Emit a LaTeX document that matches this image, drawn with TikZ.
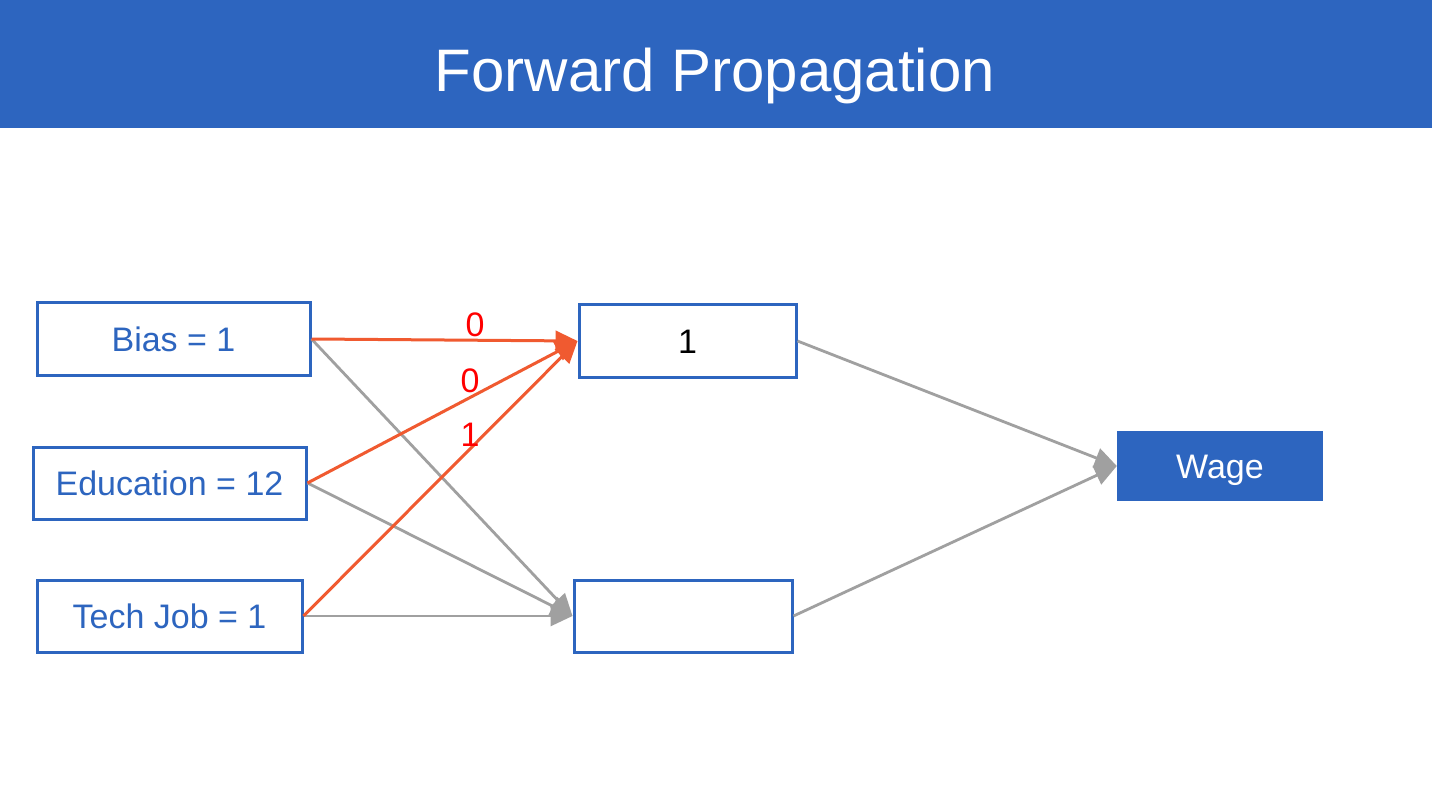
\documentclass[tikz,border=0pt]{standalone}
\usepackage{fontspec}
\setmainfont{Liberation Sans}
\usetikzlibrary{arrows.meta}
\definecolor{hdrblue}{HTML}{2D65BF}
\definecolor{edgeorange}{HTML}{F05A30}
\definecolor{edgegray}{HTML}{A0A0A0}
\definecolor{lblred}{HTML}{FF0000}
\tikzset{
  txt/.style={inner sep=0pt, text height=24.3pt, text depth=0pt},
  inbox/.style={txt, draw=hdrblue, line width=3pt, fill=white, text=hdrblue,
    font=\fontsize{34}{40}\selectfont},
  outbox/.style={txt, fill=hdrblue, text=white, font=\fontsize{34}{40}\selectfont},
  orangeedge/.style={draw=edgeorange, line width=3pt, -{Triangle[length=22pt,width=20pt]}},
  grayedge/.style={draw=edgegray, line width=2.8pt, -{Triangle[length=22pt,width=20pt]}},
  wlabel/.style={txt, text=lblred, font=\fontsize{34}{40}\selectfont},
}
\begin{document}
\begin{tikzpicture}[x=1pt,y=-1pt]
\useasboundingbox (0,0) rectangle (1432,802);
\fill[white] (0,0) rectangle (1432,802);
\fill[hdrblue] (0,0) rectangle (1432,128);
\node[inner sep=0pt, text height=43.7pt, text depth=0pt, text=white, font=\fontsize{60}{70}\selectfont] (title) at (715,70) {Forward Propagation};

\node[inbox, minimum width=273pt, minimum height=72pt] (bias) at (173.5,339) {Bias = 1};
\node[inbox, minimum width=273pt, minimum height=72pt] (edu) at (169.5,483) {Education = 12};
\node[inbox, minimum width=265pt, minimum height=72pt] (tech) at (169.5,616) {Tech Job = 1};
\node[inbox, minimum width=217pt, minimum height=72pt, text=black] (h1) at (687.5,341) {1};
\node[inbox, minimum width=218pt, minimum height=72pt] (h2) at (683,616) {};
\node[outbox, minimum width=206pt, minimum height=70pt] (wage) at (1220,466) {Wage};

\draw[grayedge] (bias.east) -- (h2.west);
\draw[grayedge] (edu.east) -- (h2.west);
\draw[grayedge] (tech.east) -- (h2.west);
\draw[orangeedge] (bias.east) -- (h1.west);
\draw[orangeedge] (edu.east) -- (h1.west);
\draw[orangeedge] (tech.east) -- (h1.west);
\draw[grayedge] (h1.east) -- (wage.west);
\draw[grayedge] (h2.east) -- (wage.west);

\node[wlabel] (w1) at (475,324) {0};
\node[wlabel] (w2) at (470,380) {0};
\node[wlabel] (w3) at (470,434) {1};
\end{tikzpicture}
\end{document}
